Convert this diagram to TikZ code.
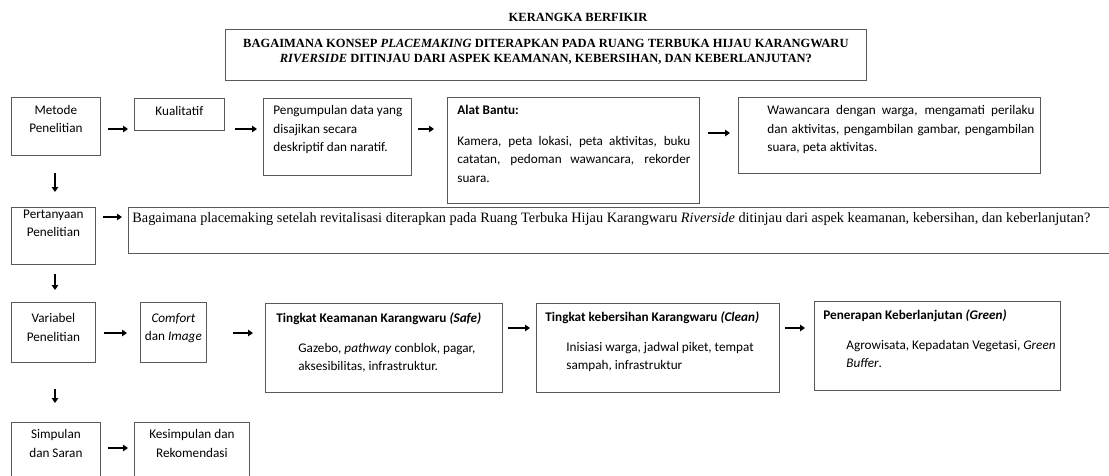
\documentclass[tikz,border=0pt]{standalone}
\usepackage{fontspec}
\setmainfont{Liberation Serif}
\setsansfont{Carlito}
\usetikzlibrary{arrows.meta}
\newcommand{\bx}[3]{\parbox[c][#2][t]{#1}{#3}}

\begin{document}
\begin{tikzpicture}[x=1pt, y=-1pt,
    box/.style={draw=black!65, line width=0.8pt, inner sep=0pt, anchor=north west,
      font=\sffamily\fontsize{13.2}{18.5}\selectfont},
    judul/.style={font=\rmfamily\bfseries\fontsize{12.5}{15}\selectfont},
    arr/.style={line width=2.4pt, -{Triangle[length=5pt, width=6.5pt]}}]
  \useasboundingbox (0,0) rectangle (1109,475);
  \fill[white] (0,0) rectangle (1109,475);
  \clip (0,0) rectangle (1109,475);
  % helper coordinates
  \coordinate (kol) at (55,0);
  \coordinate (b1) at (0,129);
  \coordinate (b1w) at (0,133);
  \coordinate (b2) at (0,217);
  \coordinate (b3) at (0,333);
  \coordinate (b3r) at (0,328);
  \coordinate (b4) at (0,448);

  % Title
  \node[judul] (kerangka) at (578,17) {KERANGKA BERFIKIR};
  \node[box, judul] (rumusan) at (225,29)
    {\bx{641pt}{51pt}{\centering\vspace*{9.5pt}BAGAIMANA KONSEP \textit{PLACEMAKING} DITERAPKAN PADA RUANG TERBUKA HIJAU KARANGWARU\\
     \textit{RIVERSIDE} DITINJAU DARI ASPEK KEAMANAN, KEBERSIHAN, DAN KEBERLANJUTAN?}};

  % Metode
  \node[box] (metode) at (11,97) {\bx{89pt}{58pt}{\centering\vspace*{7.5pt}Metode\\Penelitian}};
  \node[box] (kualitatif) at (134,98) {\bx{90pt}{32pt}{\centering\vspace*{7.5pt}Kualitatif}};
  \node[box] (pengumpulan) at (263,98) {\bx{148pt}{77pt}{\raggedright\leftskip=10pt\vspace*{7pt}Pengumpulan data yang\\disajikan secara\\deskriptif dan naratif.}};
  \node[box] (alat) at (447,97) {\bx{252pt}{106pt}{\leftskip=10pt\rightskip=9pt\vspace*{8pt}\textbf{Alat Bantu:}\\[12pt]
    Kamera, peta lokasi, peta aktivitas, buku\linebreak catatan, pedoman wawancara, rekorder\linebreak suara.}};
  \node[box] (wawancara) at (738,97) {\bx{302pt}{76pt}{\leftskip=29pt\rightskip=6pt\vspace*{8pt}Wawancara dengan warga, mengamati perilaku\linebreak
    dan aktivitas, pengambilan gambar, pengambilan\linebreak suara, peta aktivitas.}};

  % Pertanyaan
  \node[box] (pertanyaan) at (11,207) {\bx{84pt}{57pt}{\centering\vspace*{2.5pt}Pertanyaan\\Penelitian}};
  \node[box, font=\rmfamily\fontsize{14.3}{17}\selectfont] (soal) at (128,207) {\bx{1100pt}{46pt}{\raggedright\leftskip=4pt\vspace*{5.5pt}Bagaimana placemaking setelah revitalisasi diterapkan pada Ruang Terbuka Hijau Karangwaru \textit{Riverside} ditinjau dari aspek keamanan, kebersihan, dan keberlanjutan?}};

  % Variabel
  \node[box] (variabel) at (11,302) {\bx{84pt}{60pt}{\centering\vspace*{11pt}Variabel\\Penelitian}};
  \node[box] (comfort) at (140,302) {\bx{66pt}{60pt}{\centering\vspace*{11pt}\textit{Comfort}\\dan \textit{Image}}};
  \node[box] (aman) at (265,303) {\bx{237pt}{89pt}{\raggedright\leftskip=11pt\vspace*{9pt}\textbf{Tingkat Keamanan Karangwaru \textit{(Safe)}}\par
    \vspace{11.5pt}\leftskip=33pt Gazebo, \textit{pathway} conblok, pagar,\\aksesibilitas, infrastruktur.}};
  \node[box] (bersih) at (536,303) {\bx{243pt}{89pt}{\raggedright\leftskip=9pt\vspace*{8pt}\textbf{Tingkat kebersihan Karangwaru \textit{(Clean)}}\par
    \vspace{11.5pt}\leftskip=30pt Inisiasi warga, jadwal piket, tempat\\sampah, infrastruktur}};
  \node[box] (hijau) at (814,301) {\bx{246pt}{89pt}{\raggedright\leftskip=9pt\vspace*{8pt}\textbf{Penerapan Keberlanjutan \textit{(Green)}}\par
    \vspace{11.5pt}\leftskip=32pt Agrowisata, Kepadatan Vegetasi, \textit{Green}\\\textit{Buffer}.}};

  % Simpulan
  \node[box] (simpulan) at (11,422) {\bx{89pt}{70pt}{\centering\vspace*{7pt}Simpulan\\dan Saran}};
  \node[box] (kesimpulan) at (134,422) {\bx{115pt}{70pt}{\centering\vspace*{7pt}Kesimpulan dan\\Rekomendasi}};

  % Arrows
  \draw[arr, shorten <=7pt, shorten >=6pt] (metode.east |- b1) -- (kualitatif.west |- b1);
  \draw[arr, shorten <=10pt, shorten >=6pt] (kualitatif.east |- b1) -- (pengumpulan.west |- b1);
  \draw[arr, shorten <=6pt, shorten >=13pt] (pengumpulan.east |- b1) -- (alat.west |- b1);
  \draw[arr, shorten <=8pt, shorten >=8pt] (alat.east |- b1w) -- (wawancara.west |- b1w);
  \draw[arr, shorten <=7pt, shorten >=6pt] (pertanyaan.east |- b2) -- (soal.west |- b2);
  \draw[arr, shorten <=8pt, shorten >=13pt] (variabel.east |- b3) -- (comfort.west |- b3);
  \draw[arr, shorten <=26pt, shorten >=12pt] (comfort.east |- b3) -- (aman.west |- b3);
  \draw[arr, shorten <=5pt, shorten >=6pt] (aman.east |- b3r) -- (bersih.west |- b3r);
  \draw[arr, shorten <=5pt, shorten >=9pt] (bersih.east |- b3r) -- (hijau.west |- b3r);
  \draw[arr, shorten <=7pt, shorten >=6pt] (simpulan.east |- b4) -- (kesimpulan.west |- b4);
  \draw[arr, shorten <=17pt, shorten >=15pt] (kol |- metode.south) -- (kol |- pertanyaan.north);
  \draw[arr, shorten <=9pt, shorten >=12pt] (kol |- pertanyaan.south) -- (kol |- variabel.north);
  \draw[arr, shorten <=26pt, shorten >=19pt] (kol |- variabel.south) -- (kol |- simpulan.north);
\end{tikzpicture}
\end{document}
